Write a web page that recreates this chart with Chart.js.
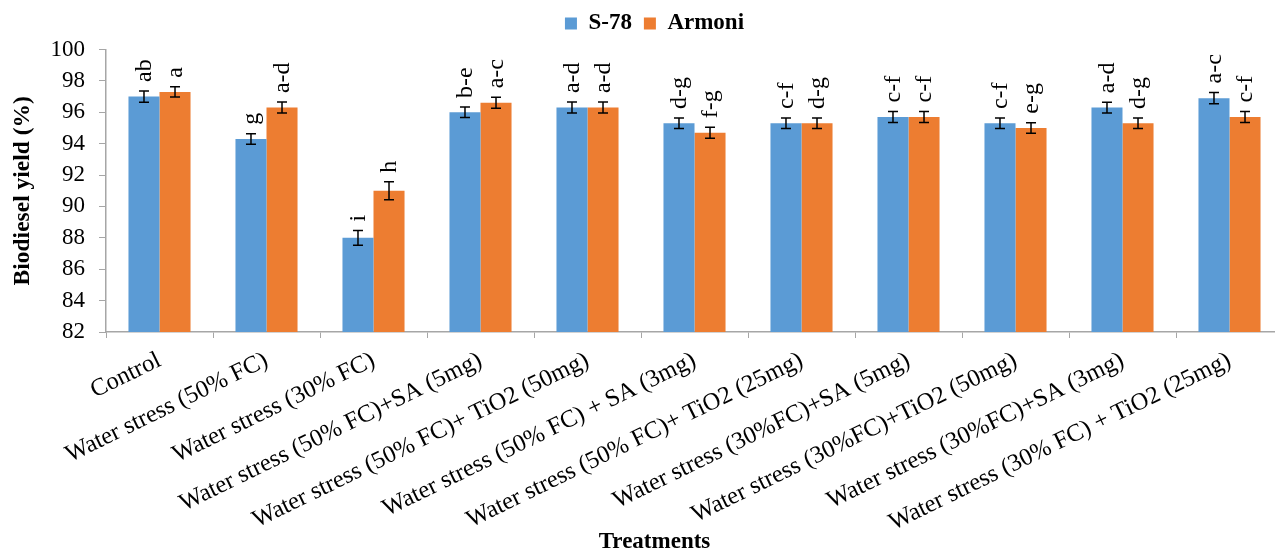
<!DOCTYPE html>
<html>
<head>
<meta charset="utf-8">
<script src="https://cdn.jsdelivr.net/npm/chart.js@4.4.1/dist/chart.umd.min.js"></script>
<style>
body { margin: 0; overflow: hidden; background: #fff; }
</style>
</head>
<body>
<canvas id="bar-chart" width="1310" height="554"></canvas>
<script>
// treatments
const categories = [
	'Control',
	'Water stress (50% FC)',
	'Water stress (30% FC)',
	'Water stress (50% FC)+SA (5mg)',
	'Water stress (50% FC)+ TiO2 (50mg)',
	'Water stress (50% FC) + SA (3mg)',
	'Water stress (50% FC)+ TiO2 (25mg)',
	'Water stress (30%FC)+SA (5mg)',
	'Water stress (30%FC)+TiO2 (50mg)',
	'Water stress (30%FC)+SA (3mg)',
	'Water stress (30% FC) + TiO2 (25mg)'
];
const s78 = [97.0, 94.3, 88.0, 96.0, 96.3, 95.3, 95.3, 95.7, 95.3, 96.3, 96.9];
const armoni = [97.3, 96.3, 91.0, 96.6, 96.3, 94.7, 95.3, 95.7, 95.0, 95.3, 95.7];
const s78Err = [0.36, 0.33, 0.47, 0.33, 0.35, 0.33, 0.33, 0.35, 0.33, 0.34, 0.36];
const armoniErr = [0.33, 0.35, 0.57, 0.35, 0.35, 0.35, 0.33, 0.35, 0.34, 0.33, 0.35];
const s78Letters = ['ab', 'g', 'i', 'b-e', 'a-d', 'd-g', 'c-f', 'c-f', 'c-f', 'a-d', 'a-c'];
const armoniLetters = ['a', 'a-d', 'h', 'a-c', 'a-d', 'f-g', 'd-g', 'c-f', 'e-g', 'd-g', 'c-f'];
const yTicks = [82, 84, 86, 88, 90, 92, 94, 96, 98, 100];

const serif = "'Liberation Serif', 'Times New Roman', serif";
const axisGrey = '#A6A6A6';

const errors = [s78Err, armoniErr];
const letters = [s78Letters, armoniLetters];

// error bars + letters above them
const errorBars = {
	id: 'errorBars',
	afterDatasetsDraw(chart) {
		const ctx = chart.ctx;
		const y = chart.scales.y;
		chart.data.datasets.forEach(function (ds, i) {
			const meta = chart.getDatasetMeta(i);
			meta.data.forEach(function (bar, j) {
				const v = ds.data[j];
				const e = errors[i][j];
				const top = y.getPixelForValue(v + e);
				const bot = y.getPixelForValue(v - e);
				ctx.save();
				ctx.strokeStyle = '#000';
				ctx.lineWidth = 1.5;
				ctx.beginPath();
				ctx.moveTo(bar.x, top); ctx.lineTo(bar.x, bot);
				ctx.moveTo(bar.x - 5, top); ctx.lineTo(bar.x + 5, top);
				ctx.moveTo(bar.x - 5, bot); ctx.lineTo(bar.x + 5, bot);
				ctx.stroke();
				ctx.translate(bar.x + 1, top - 9);
				ctx.rotate(-Math.PI / 2);
				ctx.fillStyle = '#000';
				ctx.font = '24px ' + serif;
				ctx.textAlign = 'left';
				ctx.textBaseline = 'middle';
				ctx.fillText(letters[i][j], 0, 0);
				ctx.restore();
			});
		});
	}
};

const legendHeight = {
	id: 'legendHeight',
	beforeUpdate(chart) {
		if (chart.legend && !chart.legend._patched) {
			const fit = chart.legend.fit;
			chart.legend.fit = function () {
				fit.call(this);
				this.height = 49.5;
			};
			chart.legend._patched = true;
		}
	}
};

new Chart(document.getElementById('bar-chart'), {
	type: 'bar',
	data: {
		labels: categories,
		datasets: [
			{ label: 'S-78', data: s78, backgroundColor: '#5B9BD5' },
			{ label: 'Armoni', data: armoni, backgroundColor: '#ED7D31' }
		]
	},
	options: {
		responsive: false,
		animation: false,
		layout: { padding: { left: 26, right: 27, top: 0, bottom: 0 } },
		datasets: { bar: { categoryPercentage: 0.58, barPercentage: 1.0 } },
		plugins: {
			tooltip: { enabled: false },
			legend: {
				position: 'top',
				labels: {
					boxWidth: 12,
					boxHeight: 12,
					padding: 12,
					color: '#000',
					font: { family: serif, size: 23, weight: 'bold' }
				}
			},
			title: {
				display: true,
				position: 'bottom',
				text: 'Treatments',
				color: '#000',
				padding: { top: 0, bottom: 0 },
				font: { family: serif, size: 23, weight: 'bold', lineHeight: 1.0 }
			}
		},
		scales: {
			x: {
				grid: { display: true, drawOnChartArea: false, offset: true, tickLength: 6, color: axisGrey },
				border: { color: axisGrey, width: 1.5 },
				ticks: {
					autoSkip: false,
					minRotation: 26,
					maxRotation: 26,
					padding: 8,
					color: '#000',
					font: { family: serif, size: 24.5 }
				},
				afterFit(scale) { scale.height = 199; }
			},
			y: {
				min: 82,
				max: 100,
				afterBuildTicks(scale) { scale.ticks = yTicks.map(function (v) { return { value: v }; }); },
				grid: { display: true, drawOnChartArea: false, tickLength: 7, color: axisGrey },
				border: { color: axisGrey, width: 1.5 },
				ticks: { padding: 14, color: '#000', font: { family: serif, size: 23 } },
				title: {
					display: true,
					text: 'Biodiesel yield (%)',
					color: '#000',
					padding: { top: -17, bottom: 0 },
					font: { family: serif, size: 23.5, weight: 'bold' }
				},
				afterFit(scale) { scale.width = 80; }
			}
		}
	},
	plugins: [errorBars, legendHeight]
});
</script>
</body>
</html>
